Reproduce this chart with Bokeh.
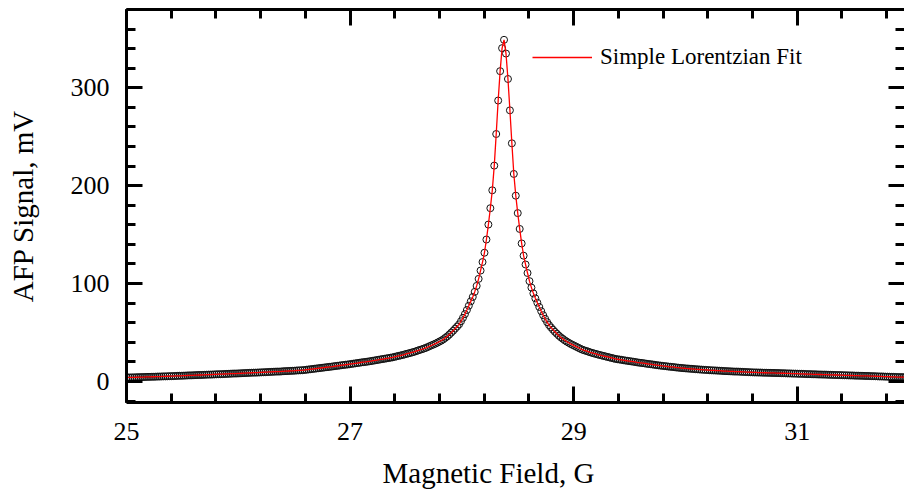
from bokeh.plotting import figure
from bokeh.models import (ColumnDataSource, LinearAxis, SingleIntervalTicker, FixedTicker,
                          Range1d, Legend, LegendItem, Title, CustomLabelingPolicy)
from bokeh.embed import file_html
from bokeh.resources import INLINE

# ---- data ----
FIELD_START = 25.0      # G, first sample of the sweep
FIELD_STEP = 0.0175     # G, sweep step between samples

signal_mv = [
    # 25.00 .. 28.36 G (low-field side)
    4.0, 4.1, 4.1, 4.2, 4.2, 4.3, 4.4, 4.4, 4.5, 4.5, 4.6, 4.7, 4.7, 4.8, 4.8, 4.9, 5.0, 5.0, 5.1, 5.2, 5.2, 5.3,
    5.4, 5.4, 5.5, 5.6, 5.7, 5.8, 5.8, 5.9, 6.0, 6.1, 6.2, 6.2, 6.3, 6.4, 6.5, 6.6, 6.6, 6.7, 6.8, 6.9, 7.0, 7.0,
    7.1, 7.2, 7.3, 7.4, 7.4, 7.5, 7.6,
    7.7, 7.8, 7.9, 8.0, 8.1, 8.1, 8.2, 8.3, 8.4, 8.5, 8.6, 8.7, 8.8, 8.9, 9.0, 9.0, 9.1, 9.2, 9.3, 9.4, 9.5, 9.6,
    9.7, 9.8, 9.9, 10.0, 10.1, 10.1,
    10.2, 10.4, 10.5, 10.6, 10.7, 10.8, 10.9, 11.0, 11.2, 11.3, 11.4, 11.5,
    11.7, 12.0, 12.2, 12.5, 12.7, 13.0, 13.2, 13.5, 13.7, 14.0, 14.2,
    14.5, 14.7, 15.0, 15.2, 15.5, 15.8, 16.0, 16.3, 16.6, 16.8, 17.1,
    17.3, 17.6, 17.9, 18.2, 18.5, 18.8, 19.1, 19.4, 19.7, 19.9, 20.2, 20.5,
    20.8, 21.2, 21.5, 21.9, 22.2, 22.6, 22.9, 23.2, 23.6, 23.9, 24.3,
    24.6, 25.1, 25.6, 26.1, 26.5, 27.0,
    27.5, 28.1, 28.6, 29.1, 29.7, 30.2,
    30.9, 31.6, 32.3, 32.9, 33.6,
    34.3, 35.2, 36.1, 37.0, 37.8, 38.7,
    39.7, 40.8, 41.8, 43.1, 44.6, 46.1, 47.9, 49.9, 51.8, 54.0, 56.1,
    58.3, 61.5, 65.0, 68.8, 73.0, 77.4, 81.8, 86.3, 91.5, 97.6, 104.8, 113.3, 122.0, 131.5, 145.0, 160.3,
    177.0, 195.3, 220.5, 252.8, 287.0, 317.0, 340.5,
    # 28.3775 .. 32.00 G (peak and high-field side)
    349.0, 335.0, 309.0, 277.0, 243.3, 212.0, 189.8, 172.0, 155.8, 141.0, 128.5, 119.5, 110.8, 102.5, 95.9,
    90.0, 84.9, 80.5, 76.1, 71.8, 67.7, 64.0, 60.6,
    57.6, 55.2, 52.9, 50.7, 48.8, 46.8, 45.1, 43.6, 42.1, 40.8, 39.6, 38.4,
    37.4, 36.4, 35.4, 34.4, 33.4,
    32.5, 31.8, 31.2, 30.5, 29.8, 29.2,
    28.6, 28.1, 27.5, 27.0, 26.5, 26.0,
    25.5, 25.0, 24.5, 24.0, 23.5,
    23.0, 22.7, 22.4, 22.1, 21.7, 21.4, 21.1, 20.8, 20.5, 20.2, 19.9, 19.5,
    19.2, 19.0, 18.7, 18.4, 18.1, 17.8, 17.6, 17.3, 17.0, 16.7, 16.4,
    16.2, 15.9, 15.7, 15.5, 15.2, 15.0, 14.8, 14.6, 14.3, 14.1, 13.9, 13.7,
    13.5, 13.3, 13.2, 13.0, 12.9, 12.7, 12.5, 12.4, 12.2, 12.1, 11.9,
    11.8, 11.7, 11.5, 11.4, 11.3, 11.2, 11.1, 11.0, 10.9, 10.7, 10.6, 10.5,
    10.4, 10.3, 10.2, 10.1, 10.1, 10.0, 9.9, 9.8, 9.7, 9.6, 9.5, 9.4, 9.3, 9.2,
    9.2, 9.1, 9.1, 9.0, 8.9, 8.9, 8.8, 8.8, 8.7, 8.7, 8.6, 8.6, 8.5, 8.4,
    8.4, 8.3, 8.2, 8.2, 8.1, 8.0, 8.0, 7.9, 7.8, 7.8, 7.7, 7.6, 7.5, 7.5,
    7.4, 7.3, 7.3, 7.2, 7.1, 7.1, 7.0, 7.0, 6.9, 6.8, 6.8, 6.7, 6.6, 6.6, 6.5,
    6.5, 6.4, 6.3, 6.3, 6.2, 6.1, 6.1, 6.0, 5.9, 5.9, 5.8, 5.8, 5.7, 5.6,
    5.6, 5.5, 5.4, 5.4, 5.3, 5.2, 5.1, 5.1, 5.0, 4.9, 4.9, 4.8, 4.7, 4.7,
    4.6, 4.5, 4.5, 4.4, 4.4, 4.3, 4.3, 4.2,
]
field_g = [round(FIELD_START + FIELD_STEP * i, 4) for i in range(len(signal_mv))]

x_range_g = (25.0, 31.96)
y_range_mv = (-21.5, 380.0)
x_major_ticks = [25, 27, 29, 31]
x_minor_per_major = 5
y_major_interval = 100
x_label = "Magnetic Field, G"
y_label = "AFP Signal, mV"
legend_label = "Simple Lorentzian Fit"

FONT = "Liberation Serif"

x_step = (x_major_ticks[1] - x_major_ticks[0]) / x_minor_per_major
x_minor_ticks = [round(x_major_ticks[0] + x_step * i, 3)
                 for i in range(int((x_range_g[1] - x_major_ticks[0]) / x_step) + 1)]

src = ColumnDataSource(data=dict(x=field_g, y=signal_mv))

p = figure(width=904, height=502, output_backend="svg", toolbar_location=None,
           x_range=Range1d(*x_range_g), y_range=Range1d(*y_range_mv),
           x_axis_location=None, y_axis_location=None,
           min_border_left=126, min_border_right=0, min_border_top=9,
           min_border_bottom=100)
p.outline_line_color = None
p.xgrid.visible = False
p.ygrid.visible = False
p.background_fill_color = "white"
p.border_fill_color = "white"

hide_labels = CustomLabelingPolicy(code="""
for (const i of indices) { indices.unset(i) }
return indices
""")


def style_axis(ax, ticker, show_labels):
    ax.ticker = ticker
    ax.axis_line_color = "black"
    ax.axis_line_width = 3
    ax.major_tick_line_color = "black"
    ax.minor_tick_line_color = "black"
    ax.major_tick_line_width = 3
    ax.minor_tick_line_width = 3
    ax.major_tick_in = 16
    ax.major_tick_out = 0
    ax.minor_tick_in = 9
    ax.minor_tick_out = 0
    ax.major_label_text_font = FONT
    ax.major_label_text_color = "black"
    ax.axis_label_text_font = FONT
    ax.axis_label_text_font_style = "normal"
    ax.axis_label_text_color = "black"
    ax.axis_label_text_font_size = "29px"
    if show_labels:
        ax.major_label_text_font_size = "26px"
    else:
        ax.major_label_text_font_size = "0px"
        ax.major_label_standoff = 0
        ax.major_label_policy = hide_labels


def x_ticker():
    return FixedTicker(ticks=x_major_ticks, minor_ticks=x_minor_ticks)


def y_ticker():
    return SingleIntervalTicker(interval=y_major_interval, num_minor_ticks=5)


xb = LinearAxis()
style_axis(xb, x_ticker(), True)
xb.major_label_standoff = 20
p.add_layout(xb, "below")

xt = LinearAxis()
style_axis(xt, x_ticker(), False)
p.add_layout(xt, "above")

yl = LinearAxis(axis_label=y_label)
style_axis(yl, y_ticker(), True)
yl.major_label_standoff = 17
yl.axis_label_standoff = 29
p.add_layout(yl, "left")

yr = LinearAxis()
style_axis(yr, y_ticker(), False)
yr.axis_line_alpha = 0
p.add_layout(yr, "right")

# x-axis title (slightly left of the frame centre, as in the original)
xtitle = Title(text=x_label, align="left", offset=256, standoff=24,
               text_font=FONT, text_font_size="29px", text_font_style="normal",
               text_color="black")
p.add_layout(xtitle, "below")

p.scatter("x", "y", source=src, marker="circle", size=7, fill_color=None,
          line_color="#111111", line_width=1)
fit = p.line("x", "y", source=src, line_color="red", line_width=1.3)

legend = Legend(items=[LegendItem(label=legend_label, renderers=[fit])],
                location=(406, 332))
legend.border_line_color = None
legend.background_fill_alpha = 0
legend.glyph_width = 60
legend.glyph_height = 20
legend.label_standoff = 8
legend.padding = 0
legend.margin = 0
legend.label_text_font = FONT
legend.label_text_font_size = "23px"
legend.label_text_color = "black"
p.add_layout(legend)

open("out.html", "w").write(file_html(p, INLINE))
